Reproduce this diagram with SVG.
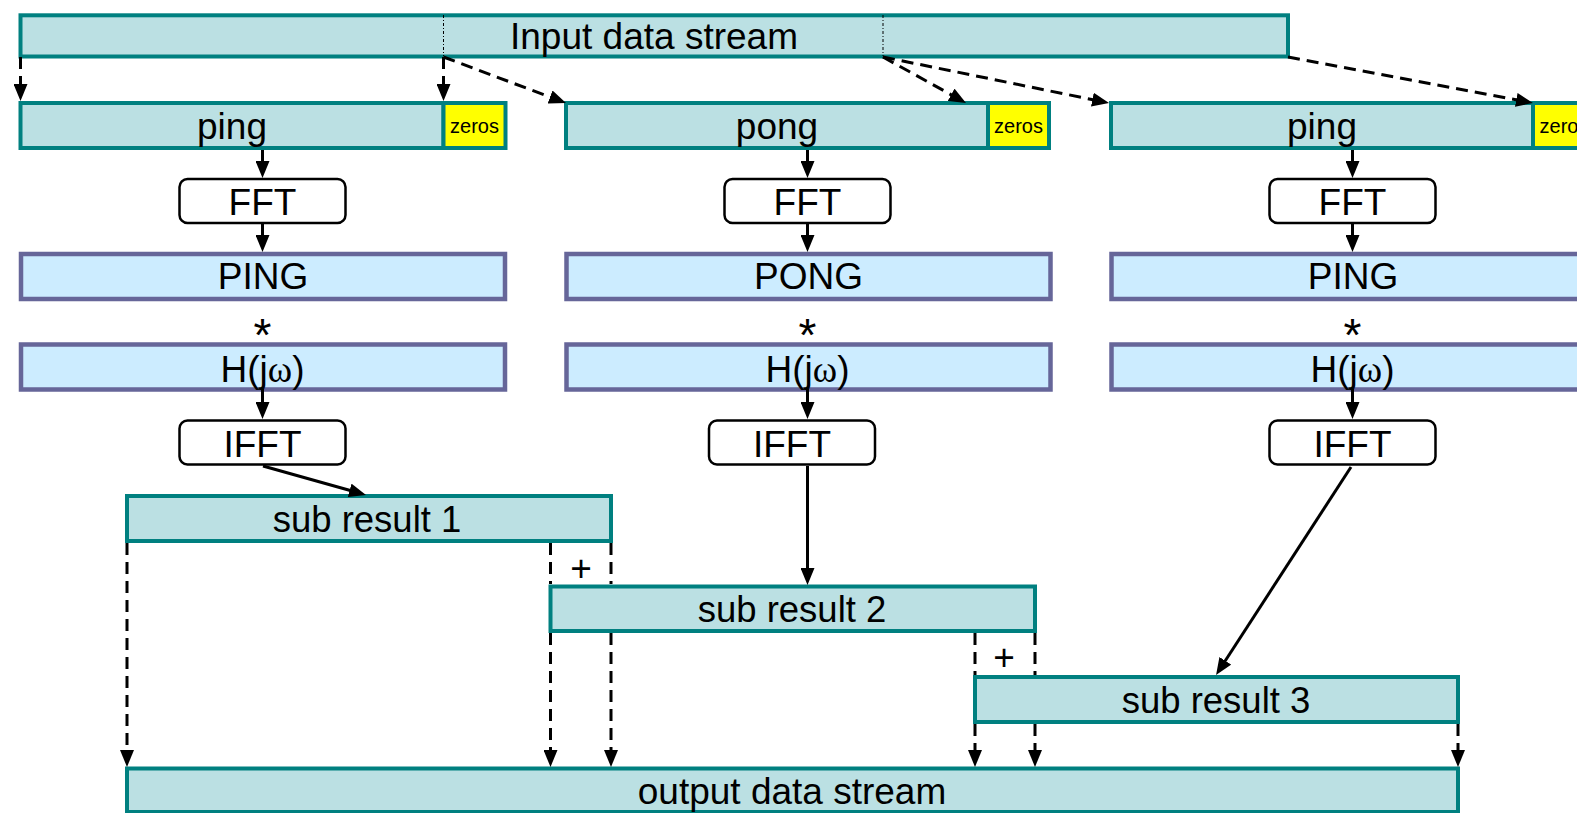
<svg xmlns="http://www.w3.org/2000/svg" width="1577" height="813" viewBox="0 0 1577 813">
<style>
.t{font-family:"Liberation Sans",Arial,sans-serif;fill:#000;text-anchor:middle}
.big{font-size:37px}
.mid{font-size:36.5px}
.sm{font-size:20px}
.star{font-size:46px}
.stream{fill:#BBE0E3;stroke:#008080;stroke-width:4}
.zero{fill:#FFFF00;stroke:#008080;stroke-width:4}
.spec{fill:#CCECFF;stroke:#666699;stroke-width:4.5}
.op{fill:#FFFFFF;stroke:#000;stroke-width:2.5}
.sol{stroke:#000;stroke-width:3;fill:none}
.dash{stroke:#000;stroke-width:3;fill:none;stroke-dasharray:12 7}
.dot{stroke:#000;stroke-width:1;fill:none;stroke-dasharray:3 2 1 2}
</style>
<defs>
<marker id="ah" markerUnits="userSpaceOnUse" markerWidth="17" markerHeight="14" refX="9" refY="7" orient="auto">
<path d="M0,0 L17,7 L0,14 z" fill="#000"/>
</marker>
</defs>

<g id="input">
<rect class="stream" x="20.5" y="15.3" width="1267.5" height="41.2"/>
<line class="dot" x1="443.5" y1="15" x2="443.5" y2="56"/>
<line class="dot" x1="883" y1="15" x2="883" y2="56"/>
<text class="t big" x="654" y="48.5">Input data stream</text>
</g>

<g id="ping1">
<rect class="stream" x="20.5" y="103" width="423" height="45"/>
<text class="t big" x="232" y="138.5">ping</text>
</g>
<g id="zeros1">
<rect class="zero" x="443.5" y="103" width="62" height="45"/>
<text class="t sm" x="474.5" y="133">zeros</text>
</g>
<g id="pong2">
<rect class="stream" x="566" y="103" width="422" height="45"/>
<text class="t big" x="777" y="138.5">pong</text>
</g>
<g id="zeros2">
<rect class="zero" x="988" y="103" width="61" height="45"/>
<text class="t sm" x="1018.5" y="133">zeros</text>
</g>
<g id="ping3">
<rect class="stream" x="1111" y="103" width="422" height="45"/>
<text class="t big" x="1322" y="138.5">ping</text>
</g>
<g id="zeros3">
<rect class="zero" x="1533" y="103" width="62" height="45"/>
<text class="t sm" x="1564" y="133">zeros</text>
</g>

<g id="fft1"><rect class="op" x="179.5" y="179" width="166" height="44" rx="8"/><text class="t big" x="262.5" y="214.5">FFT</text></g>
<g id="fft2"><rect class="op" x="724.5" y="179" width="166" height="44" rx="8"/><text class="t big" x="807.5" y="214.5">FFT</text></g>
<g id="fft3"><rect class="op" x="1269.5" y="179" width="166" height="44" rx="8"/><text class="t big" x="1352.5" y="214.5">FFT</text></g>

<g id="spec1"><rect class="spec" x="21" y="254" width="484" height="45"/><text class="t big" x="263" y="289">PING</text></g>
<g id="spec2"><rect class="spec" x="566.5" y="254" width="484" height="45"/><text class="t big" x="808.5" y="289">PONG</text></g>
<g id="spec3"><rect class="spec" x="1111.5" y="254" width="484" height="45"/><text class="t big" x="1353" y="289">PING</text></g>

<g id="mul1"><text class="t star" x="262.5" y="351">*</text></g>
<g id="mul2"><text class="t star" x="807.5" y="351">*</text></g>
<g id="mul3"><text class="t star" x="1352.5" y="351">*</text></g>

<g id="h1"><rect class="spec" x="21" y="344.5" width="484" height="45"/><text class="t big" x="262.5" y="382">H(j<tspan font-family="'Liberation Serif',serif">ω</tspan>)</text></g>
<g id="h2"><rect class="spec" x="566.5" y="344.5" width="484" height="45"/><text class="t big" x="807.5" y="382">H(j<tspan font-family="'Liberation Serif',serif">ω</tspan>)</text></g>
<g id="h3"><rect class="spec" x="1111.5" y="344.5" width="484" height="45"/><text class="t big" x="1352.5" y="382">H(j<tspan font-family="'Liberation Serif',serif">ω</tspan>)</text></g>

<g id="ifft1"><rect class="op" x="179.5" y="420.5" width="166" height="44" rx="8"/><text class="t big" x="262.5" y="456.5">IFFT</text></g>
<g id="ifft2"><rect class="op" x="709" y="420.5" width="166" height="44" rx="8"/><text class="t big" x="792" y="456.5">IFFT</text></g>
<g id="ifft3"><rect class="op" x="1269.5" y="420.5" width="166" height="44" rx="8"/><text class="t big" x="1352.5" y="456.5">IFFT</text></g>

<g id="sub1"><rect class="stream" x="127" y="496" width="484" height="45"/><text class="t mid" x="367" y="531.5">sub result 1</text></g>
<g id="sub2"><rect class="stream" x="550.5" y="586.5" width="484.5" height="44.5"/><text class="t mid" x="792" y="622">sub result 2</text></g>
<g id="sub3"><rect class="stream" x="975" y="677" width="483" height="45"/><text class="t mid" x="1216" y="712.5">sub result 3</text></g>

<g id="output"><rect class="stream" x="127" y="768.5" width="1331" height="43.5"/><text class="t big" x="792" y="804">output data stream</text></g>

<g id="plus1"><text class="t big" x="581" y="581">+</text></g>
<g id="plus2"><text class="t big" x="1004" y="670">+</text></g>

<g id="connectors">
<line class="dash" x1="20.5" y1="57" x2="20.5" y2="93" marker-end="url(#ah)"/>
<line class="dash" x1="443.5" y1="57" x2="443.5" y2="93" marker-end="url(#ah)"/>
<line class="dash" x1="443.5" y1="57" x2="558.5" y2="100.2" marker-end="url(#ah)"/>
<line class="dash" x1="883" y1="57" x2="959" y2="99.1" marker-end="url(#ah)"/>
<line class="dash" x1="883" y1="57" x2="1101.2" y2="101.4" marker-end="url(#ah)"/>
<line class="dash" x1="1288" y1="57" x2="1525.1" y2="101.5" marker-end="url(#ah)"/>

<line class="sol" x1="262.5" y1="150" x2="262.5" y2="170" marker-end="url(#ah)"/>
<line class="sol" x1="807.5" y1="150" x2="807.5" y2="170" marker-end="url(#ah)"/>
<line class="sol" x1="1352.5" y1="150" x2="1352.5" y2="170" marker-end="url(#ah)"/>
<line class="sol" x1="262.5" y1="224" x2="262.5" y2="244" marker-end="url(#ah)"/>
<line class="sol" x1="807.5" y1="224" x2="807.5" y2="244" marker-end="url(#ah)"/>
<line class="sol" x1="1352.5" y1="224" x2="1352.5" y2="244" marker-end="url(#ah)"/>
<line class="sol" x1="262.5" y1="389" x2="262.5" y2="411" marker-end="url(#ah)"/>
<line class="sol" x1="807.5" y1="389" x2="807.5" y2="411" marker-end="url(#ah)"/>
<line class="sol" x1="1352.5" y1="389" x2="1352.5" y2="411" marker-end="url(#ah)"/>

<line class="sol" x1="263" y1="466" x2="358.3" y2="492.8" marker-end="url(#ah)"/>
<line class="sol" x1="807.5" y1="466" x2="807.5" y2="577" marker-end="url(#ah)"/>
<line class="sol" x1="1351" y1="467" x2="1220.4" y2="668.3" marker-end="url(#ah)"/>

<line class="dash" x1="127" y1="543" x2="127" y2="759" marker-end="url(#ah)"/>
<line class="dash" x1="550.5" y1="543" x2="550.5" y2="584"/>
<line class="dash" x1="611" y1="543" x2="611" y2="584"/>
<line class="dash" x1="550.5" y1="633" x2="550.5" y2="759" marker-end="url(#ah)"/>
<line class="dash" x1="611" y1="633" x2="611" y2="759" marker-end="url(#ah)"/>
<line class="dash" x1="975" y1="633" x2="975" y2="675"/>
<line class="dash" x1="1035" y1="633" x2="1035" y2="675"/>
<line class="dash" x1="975" y1="724" x2="975" y2="759" marker-end="url(#ah)"/>
<line class="dash" x1="1035" y1="724" x2="1035" y2="759" marker-end="url(#ah)"/>
<line class="dash" x1="1458" y1="724" x2="1458" y2="759" marker-end="url(#ah)"/>
</g>
</svg>
